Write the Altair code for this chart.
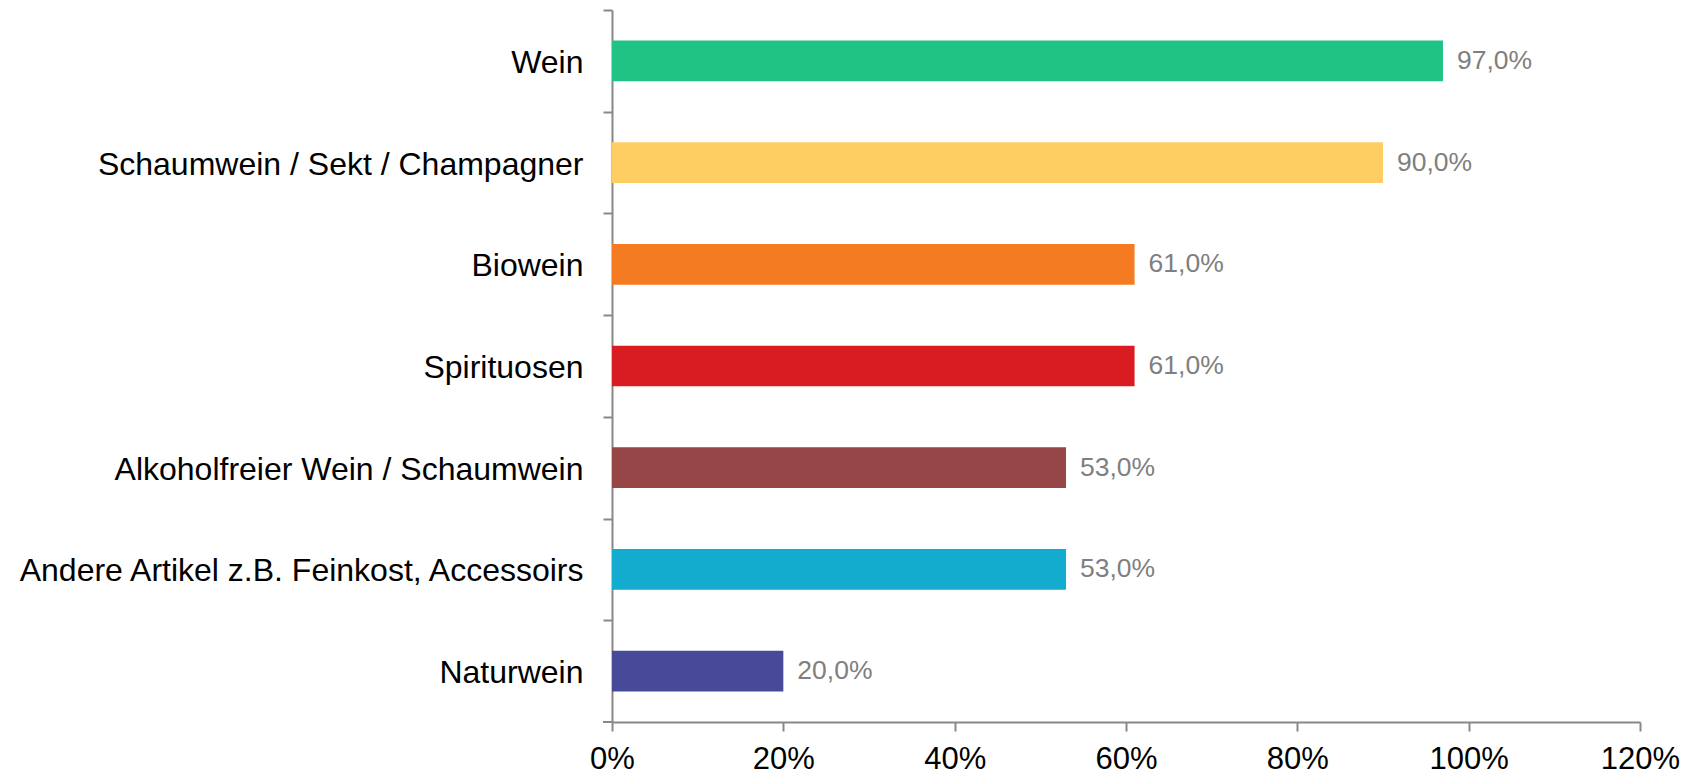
import altair as alt
import pandas as pd

categories = [
    "Wein",
    "Schaumwein / Sekt / Champagner",
    "Biowein",
    "Spirituosen",
    "Alkoholfreier Wein / Schaumwein",
    "Andere Artikel z.B. Feinkost, Accessoirs",
    "Naturwein",
]
values = [97.0, 90.0, 61.0, 61.0, 53.0, 53.0, 20.0]
colors = ["#20C383", "#FECE63", "#F47B22", "#D91C22", "#964646", "#13ACCF", "#474A99"]
x_ticks = [0, 20, 40, 60, 80, 100, 120]

df = pd.DataFrame({
    "category": categories,
    "value": values,
    "label": [f"{v:.1f}".replace(".", ",") + "%" for v in values],
})

FONT = "Liberation Sans"
AXIS_COLOR = "#888888"
W, H = 1028, 712
STEP = H / len(categories)

y_enc = alt.Y(
    "category:N",
    sort=categories,
    title=None,
    scale=alt.Scale(paddingInner=0.6, paddingOuter=0.3),
    axis=alt.Axis(
        tickOffset=-STEP / 2,
        labelOffset=STEP / 2 + 1.5,
        domainColor=AXIS_COLOR,
        domainWidth=2,
        tickColor=AXIS_COLOR,
        tickWidth=2,
        tickSize=9,
        labelPadding=20,
        labelFont=FONT,
        labelFontSize=32,
        labelColor="#000000",
        labelLimit=700,
        grid=False,
    ),
)

x_enc = alt.X(
    "value:Q",
    title=None,
    scale=alt.Scale(domain=[0, 120], nice=False),
    axis=alt.Axis(
        values=x_ticks,
        labelExpr="datum.value + '%'",
        domainColor=AXIS_COLOR,
        domainWidth=2,
        tickColor=AXIS_COLOR,
        tickWidth=2,
        tickSize=9,
        labelPadding=13,
        labelFont=FONT,
        labelFontSize=31,
        labelColor="#000000",
        grid=False,
        labelFlush=False,
    ),
)

bars = alt.Chart(df).mark_bar().encode(
    x=x_enc,
    y=y_enc,
    color=alt.Color("category:N", scale=alt.Scale(domain=categories, range=colors), legend=None),
)

text = alt.Chart(df).mark_text(
    align="left", baseline="middle", dx=14, font=FONT, fontSize=26.5, color="#7F7F7F"
).encode(
    x=alt.X("value:Q"),
    y=alt.Y("category:N", sort=categories),
    text="label:N",
)

# bottom category tick (band boundary at the x axis)
bottom_tick = alt.Chart(pd.DataFrame({"v": [0]})).mark_rule(
    color=AXIS_COLOR, strokeWidth=2
).encode(
    x=alt.value(-9), x2=alt.value(0), y=alt.value(H)
)

chart = (
    alt.layer(bars, text, bottom_tick)
    .properties(
        width=W,
        height=H,
        background="white",
        autosize=alt.AutoSizeParams(type="none"),
        padding={"left": 612, "top": 10, "right": 49, "bottom": 53},
    )
    .configure_view(strokeWidth=0, stroke="transparent")
)

chart.save("out.html", embed_options={"renderer": "svg", "actions": False})
